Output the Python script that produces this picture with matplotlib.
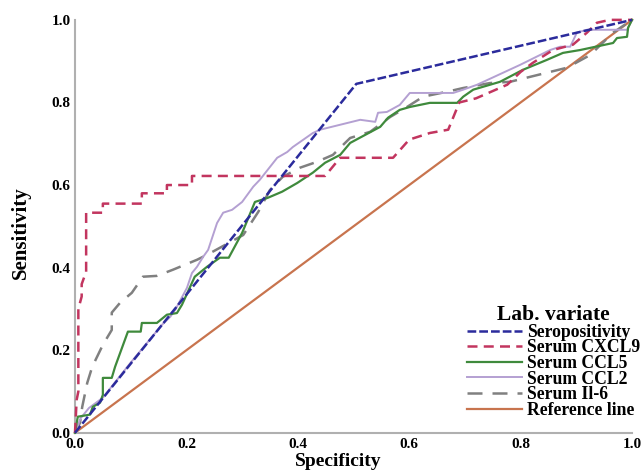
import matplotlib
matplotlib.use("Agg")
import matplotlib.pyplot as plt

# ROC-Kurven, Werte
sero_x = [0.0, 0.505, 1.0]
sero_y = [0.0, 0.845, 1.0]

cxcl9_x = [0.0, 0.003, 0.006, 0.006, 0.012, 0.012, 0.02, 0.02, 0.05, 0.05, 0.12, 0.12,
           0.165, 0.165, 0.21, 0.21, 0.449, 0.476, 0.571, 0.60, 0.637, 0.67, 0.69, 0.72,
           0.776, 0.80, 0.822, 0.858, 0.894, 0.919, 0.937, 0.96, 1.0]
cxcl9_y = [0.0, 0.08, 0.10, 0.30, 0.33, 0.36, 0.39, 0.533, 0.533, 0.555, 0.555, 0.58,
           0.58, 0.60, 0.60, 0.622, 0.622, 0.666, 0.666, 0.71, 0.726, 0.734, 0.80, 0.81,
           0.843, 0.874, 0.896, 0.927, 0.94, 0.969, 0.993, 1.0, 1.0]

ccl5_x = [0.0, 0.005, 0.027, 0.032, 0.045, 0.05, 0.05, 0.066, 0.072, 0.095, 0.118, 0.12,
          0.147, 0.165, 0.183, 0.192, 0.215, 0.237, 0.26, 0.276, 0.30, 0.323, 0.346, 0.372,
          0.399, 0.427, 0.449, 0.476, 0.494, 0.548, 0.562, 0.583, 0.601, 0.637, 0.686,
          0.697, 0.715, 0.763, 0.804, 0.847, 0.876, 0.907, 0.966, 0.973, 0.991, 0.993, 1.0]
ccl5_y = [0.0, 0.039, 0.044, 0.063, 0.073, 0.092, 0.133, 0.133, 0.16, 0.245, 0.245, 0.266,
          0.266, 0.286, 0.29, 0.31, 0.378, 0.402, 0.424, 0.424, 0.484, 0.559, 0.569, 0.584,
          0.605, 0.63, 0.654, 0.673, 0.702, 0.741, 0.763, 0.782, 0.789, 0.799, 0.799,
          0.814, 0.831, 0.85, 0.879, 0.903, 0.92, 0.927, 0.944, 0.956, 0.959, 0.981, 1.0]

ccl2_x = [0.0, 0.01, 0.025, 0.05, 0.10, 0.14, 0.155, 0.171, 0.18, 0.201, 0.21, 0.219,
          0.23, 0.239, 0.255, 0.266, 0.282, 0.30, 0.32, 0.332, 0.346, 0.363, 0.381, 0.391,
          0.409, 0.427, 0.44, 0.476, 0.512, 0.539, 0.544, 0.56, 0.583, 0.601, 0.679, 0.697,
          0.722, 0.799, 0.853, 0.871, 0.889, 0.901, 0.919, 0.991, 1.0]
ccl2_y = [0.0, 0.035, 0.06, 0.085, 0.17, 0.235, 0.26, 0.281, 0.298, 0.351, 0.387, 0.402,
          0.426, 0.443, 0.508, 0.533, 0.54, 0.559, 0.596, 0.613, 0.637, 0.666, 0.68, 0.692,
          0.709, 0.726, 0.734, 0.746, 0.758, 0.753, 0.775, 0.777, 0.794, 0.823, 0.823, 0.831,
          0.843, 0.891, 0.927, 0.935, 0.935, 0.969, 0.976, 0.976, 1.0]

il6_x = [0.0, 0.009, 0.013, 0.022, 0.031, 0.05, 0.066, 0.066, 0.081, 0.102, 0.122, 0.147,
         0.176, 0.219, 0.237, 0.26, 0.302, 0.329, 0.35, 0.373, 0.404, 0.434, 0.463, 0.494,
         0.53, 0.566, 0.596, 0.625, 0.668, 0.697, 0.745, 0.781, 0.847, 0.883, 0.925, 0.966, 1.0]
il6_y = [0.0, 0.024, 0.063, 0.121, 0.16, 0.213, 0.249, 0.291, 0.315, 0.339, 0.378, 0.38,
         0.395, 0.419, 0.431, 0.448, 0.479, 0.535, 0.588, 0.62, 0.642, 0.656, 0.673, 0.714,
         0.729, 0.765, 0.789, 0.814, 0.826, 0.835, 0.847, 0.85, 0.872, 0.884, 0.915, 0.969, 1.0]

ref_x = [0.0, 1.0]
ref_y = [0.0, 1.0]

plt.rcParams['font.family'] = ['Liberation Serif', 'DejaVu Serif']
plt.rcParams['font.weight'] = 'bold'

fig = plt.figure(figsize=(6.41, 4.73), dpi=100)
ax = fig.add_axes([0.117, 0.085, 0.869, 0.873])

ax.plot(ref_x, ref_y, color='#c8744e', lw=1.6, label='Reference line', zorder=2)
ax.plot(il6_x, il6_y, color='#808080', lw=1.8, dashes=(6, 4), label='Serum Il-6', zorder=3)
ax.plot(ccl2_x, ccl2_y, color='#b4a0d2', lw=1.4, label='Serum CCL2', zorder=3)
ax.plot(ccl5_x, ccl5_y, color='#3f8a3c', lw=1.6, label='Serum CCL5', zorder=4)
ax.plot(cxcl9_x, cxcl9_y, color='#c2355f', lw=1.8, dashes=(4, 2.5), label='Serum CXCL9', zorder=4)
ax.plot(sero_x, sero_y, color='#2b2b9c', lw=1.8, dashes=(3.5, 1.2), label='Seropositivity', zorder=5)

ax.set_xlim(0, 1)
ax.set_ylim(0, 1)
for ln in ax.lines:
    ln.set_clip_on(False)

ax.set_xticks([0, 0.2, 0.4, 0.6, 0.8, 1.0])
ax.set_yticks([0, 0.2, 0.4, 0.6, 0.8, 1.0])
ax.xaxis.set_major_formatter(matplotlib.ticker.FormatStrFormatter('%.1f'))
ax.yaxis.set_major_formatter(matplotlib.ticker.FormatStrFormatter('%.1f'))
ax.tick_params(length=0, labelsize=11)
ax.tick_params(axis='x', pad=4)
ax.tick_params(axis='y', pad=3)

for s in ['top', 'right']:
    ax.spines[s].set_visible(False)
for s in ['left', 'bottom']:
    ax.spines[s].set_color('#b0b0b0')
    ax.spines[s].set_linewidth(1.5)

ax.set_xlabel('Specificity', fontsize=14, fontweight='bold')
ax.set_ylabel('Sensitivity', fontsize=15, fontweight='bold')
ax.xaxis.set_label_coords(0.472, -0.05)
ax.yaxis.set_label_coords(-0.079, 0.484)

handles, labels = ax.get_legend_handles_labels()
order = [5, 4, 3, 2, 1, 0]
leg = ax.legend([handles[i] for i in order], [labels[i] for i in order],
                title='Lab. variate', loc='lower right',
                bbox_to_anchor=(640 / 641, 0.085 + 0.034 * 0.873), bbox_transform=fig.transFigure,
                frameon=False, fontsize=12.7, handlelength=3.1, handletextpad=0.3,
                labelspacing=-0.08, borderpad=0.0, borderaxespad=0.0)
leg.get_title().set_fontsize(15.5)
leg.get_title().set_fontweight('bold')
leg._legend_box.sep = -1

fig.savefig('out.png', dpi=100)
